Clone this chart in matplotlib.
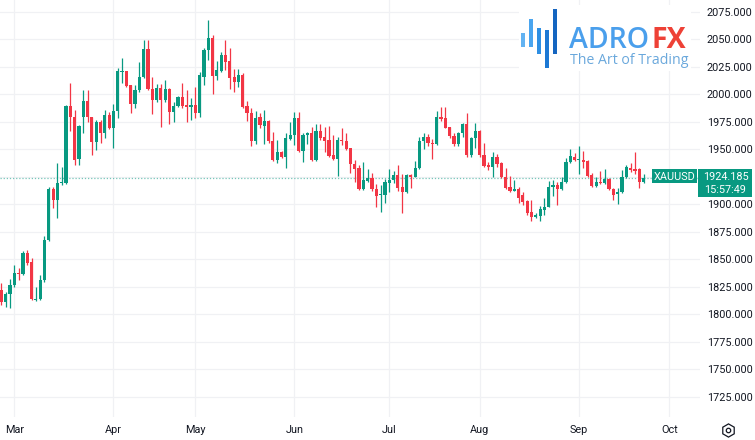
import numpy as np
import pandas as pd
import matplotlib
matplotlib.use("Agg")
import matplotlib.pyplot as plt
from matplotlib.patches import Rectangle
from matplotlib.lines import Line2D

plt.rcParams['font.family'] = ['Roboto', 'DejaVu Sans']

# ---------------- data (XAUUSD daily, 2023-02-24 .. 2023-09-22) ----------------
opens = [1822, 1811.4, 1818.1, 1826.5, 1837.8, 1836.3, 1856, 1847.7, 1812.8, 1813.5,
         1831, 1867.5, 1913.8, 1903.8, 1919, 1919, 1989.3, 1979.5, 1940.8, 1979,
         1993.8, 1979, 1956.8, 1974.5, 1964.5, 1981, 1969.5, 1984.7, 2020.5, 2021,
         2008.4, 1990.8, 2003.8, 2015.4, 2041, 2004.7, 1994.7, 2006, 1994.7, 2004.7,
         1983.5, 1989.5, 1997.7, 1990.2, 1988, 1990.2, 1982.6, 2016, 2040, 2050.8,
         2016.5, 2021.4, 2035.6, 2030, 2015.4, 2011.4, 2017.5, 1989.3, 1982.6, 1957.7,
         1979, 1971, 1975.9, 1957.7, 1940.2, 1947.2, 1943.2, 1959.3, 1962.9, 1978,
         1948.6, 1962.9, 1964.5, 1940.2, 1966.5, 1961.4, 1958.4, 1944.7, 1941.1, 1958.4,
         1957.7, 1950.8, 1936.3, 1933.2, 1913.5, 1921.4, 1923.5, 1913.8, 1908, 1908.4,
         1919.5, 1922, 1926.5, 1915.4, 1910.8, 1926.5, 1925, 1932.6, 1957.7, 1961.4,
         1955.9, 1954.7, 1979.5, 1978, 1970, 1962, 1954.5, 1964.5, 1972.6, 1944.7,
         1959.9, 1966.5, 1944.7, 1935.6, 1934.1, 1943.2, 1937.2, 1925, 1915.9, 1912.3,
         1913.8, 1908.4, 1903, 1893.2, 1888.6, 1889.3, 1894.5, 1897.5, 1915.9, 1917.5,
         1913.8, 1920.5, 1938, 1943.2, 1940.2, 1940.2, 1939, 1926.5, 1916.8, 1920.5,
         1919.5, 1922.9, 1913.5, 1909, 1910.8, 1924.5, 1933.2, 1931.7, 1931.7, 1920.5]
highs = [1828, 1820.5, 1831.7, 1844.7, 1841.7, 1857, 1858.4, 1851.4, 1824.5, 1835.6,
         1871.4, 1915.7, 1915.4, 1937.7, 1934, 1990.2, 2010.5, 1985.6, 1972, 2003.8,
         2003.8, 1979.5, 1976.5, 1976.5, 1985.6, 1983.5, 1990.8, 2023.5, 2032.6, 2021.4,
         2008.4, 2008.4, 2029.5, 2049.3, 2049.3, 2016, 2009, 2009, 2013, 2005.4,
         1992.6, 1998.4, 2010, 2003.8, 1996.3, 2006.8, 2020.5, 2041.7, 2067.5, 2053.8,
         2030, 2038.6, 2049.3, 2041.7, 2022.6, 2022.6, 2019, 1993.8, 1987.2, 1984.7,
         1982.6, 1985.6, 1976.5, 1965.9, 1958.4, 1948.6, 1964.5, 1975, 1984.1, 1984.1,
         1964.5, 1966, 1970, 1973, 1973, 1970, 1971, 1962.9, 1960.8, 1969,
         1964.5, 1951.4, 1940.2, 1935.6, 1938, 1932, 1928, 1918, 1917.5, 1923,
         1932, 1930.5, 1935.6, 1927, 1927.4, 1927.8, 1939.5, 1961.4, 1964.5, 1964,
         1959.3, 1985, 1988, 1988.6, 1970, 1964.5, 1965.9, 1973.5, 1982.6, 1961,
         1973.5, 1967.5, 1955.4, 1938.6, 1947.7, 1945.6, 1938.6, 1933.2, 1925.6, 1922,
         1916, 1911, 1904, 1903.8, 1892, 1898, 1905.4, 1921, 1922, 1920.5,
         1925, 1942, 1950.2, 1946.6, 1953.2, 1948, 1940.2, 1928, 1925, 1930.5,
         1932, 1923.5, 1914.4, 1914.4, 1931, 1935.6, 1937.2, 1947, 1933.2, 1927]
lows = [1808.4, 1806.8, 1805.4, 1825, 1831, 1835.8, 1844.7, 1812.6, 1812.3, 1813,
        1829.5, 1866.9, 1896.3, 1887.2, 1917.5, 1918.4, 1966.8, 1935.6, 1935.6, 1965,
        1975, 1944.7, 1949.4, 1955.4, 1960, 1968.4, 1950.8, 1978, 2009.9, 2006.8,
        1982.6, 1987.7, 2002.3, 2014.5, 2003.5, 1981.7, 1993.2, 1970.5, 1993.2, 1972.6,
        1975, 1988.6, 1987.2, 1975, 1976.5, 1978, 1979.5, 2008.4, 2031, 2000,
        2013, 2020.5, 2022, 2005, 2002.3, 2006.8, 1987, 1975.9, 1952.9, 1954.7,
        1969, 1954.7, 1956, 1939.5, 1937.7, 1942.4, 1933.2, 1958.4, 1953.8, 1947.7,
        1938.6, 1955, 1939.5, 1939.5, 1958.4, 1947.7, 1943.2, 1940.2, 1925.6, 1953.8,
        1949.3, 1928, 1920.5, 1912.9, 1912.9, 1920, 1912, 1897, 1893.2, 1900.8,
        1911.5, 1919.5, 1912, 1892, 1910, 1914.5, 1924.4, 1932, 1950, 1952.9,
        1941, 1953.8, 1976, 1969, 1959.9, 1953.2, 1952.9, 1961.4, 1943.2, 1943,
        1950.8, 1943.2, 1934, 1931, 1925, 1933.8, 1924.1, 1914, 1911.1, 1912,
        1901, 1899, 1890, 1885, 1887, 1885, 1890, 1897, 1907, 1899.3,
        1912.9, 1919.5, 1937, 1939.5, 1927.7, 1933, 1925, 1915.9, 1915.9, 1918.5,
        1918.6, 1912.9, 1903.8, 1900, 1910, 1923.4, 1929, 1927.7, 1914.5, 1919.5]
closes = [1811.4, 1818.1, 1826.5, 1837.2, 1836.6, 1856, 1846.8, 1813.5, 1814, 1831,
          1867.5, 1913.8, 1903.8, 1919, 1920.2, 1989.3, 1979.5, 1940.2, 1971, 1993.8,
          1979, 1956.8, 1975, 1964.5, 1981, 1969.5, 1984.7, 2021, 2021.4, 2007.7,
          1990.8, 2003.8, 2015.4, 2041, 2004.7, 1994.7, 2006, 1994.7, 2004.7, 1983.5,
          1989.5, 1997.7, 1989.5, 1988, 1990.2, 1982.6, 2017.5, 2040.2, 2050.8, 2016.5,
          2022, 2035.6, 2029.5, 2015, 2011.4, 2017.5, 1988.6, 1982.6, 1957.7, 1978,
          1972, 1975.9, 1957.7, 1940.2, 1947.2, 1943.2, 1959.9, 1962.9, 1978, 1948.6,
          1962.9, 1964.5, 1940.2, 1966.5, 1960.5, 1957.7, 1944.1, 1941.1, 1958.4, 1957.2,
          1950.2, 1936.3, 1932, 1913.5, 1922, 1923.5, 1913.5, 1907.7, 1909, 1919.9,
          1922, 1926.5, 1914.5, 1910.8, 1926.5, 1925, 1932.6, 1957.7, 1961.4, 1955.9,
          1954.7, 1979.5, 1977.7, 1969.5, 1962, 1954.5, 1964.5, 1972.6, 1944.7, 1959.9,
          1966.5, 1944.7, 1935, 1934.1, 1943.2, 1936.5, 1925, 1915, 1912.3, 1913.8,
          1905.4, 1902.3, 1892.3, 1888.6, 1890.2, 1895.4, 1897.5, 1915.9, 1917.5, 1913.8,
          1920.5, 1938, 1943.8, 1940.2, 1941.4, 1938.6, 1925.9, 1916.6, 1920.5, 1919,
          1922.9, 1913.5, 1908.4, 1911.4, 1924.5, 1934.1, 1931, 1930.5, 1920.5, 1924.185]

month_labels = ['Mar', 'Apr', 'May', 'Jun', 'Jul', 'Aug', 'Sep', 'Oct']
price_ticks = [1725, 1750, 1775, 1800, 1825, 1850, 1875, 1900, 1925, 1950,
               1975, 2000, 2025, 2050, 2075]
symbol = 'XAUUSD'
last_price = 1924.185
countdown = '15:57:49'

# trading calendar (Good Friday closed)
cal = [d for d in pd.bdate_range('2023-02-24', '2023-10-06') if d != pd.Timestamp('2023-04-07')]
month_pos = []
for m in range(3, 11):
    month_pos.append(next(i for i, d in enumerate(cal) if d.month == m))

UP = '#089981'
DOWN = '#F23645'
TXT = '#131722'

W, H = 755, 440
fig = plt.figure(figsize=(W / 100, H / 100), dpi=100)
fig.patch.set_facecolor('white')

def fx(px):
    return px / W

def fy(py):
    return 1 - py / H

ax = fig.add_axes([0, fy(417), fx(700), 417 / H])
ax.set_facecolor('white')

o = np.array(opens); h = np.array(highs); l = np.array(lows); c = np.array(closes)
xs = np.arange(len(o))
col = np.where(c >= o, UP, DOWN)
ax.vlines(xs, l, h, colors=col, linewidth=0.9, zorder=3)
bottoms = np.minimum(o, c)
heights = np.maximum(np.abs(c - o), 0.9)
ax.bar(xs, heights, bottom=bottoms, width=0.74, color=col, edgecolor='none', zorder=4)

ax.axhline(last_price, color=UP, linestyle=(0, (1, 1.5)), linewidth=0.9, alpha=0.55, zorder=2)

ax.set_xlim(-0.32, 162.1)
ax.set_ylim(1706.5, 2085.6)
ax.set_xticks(month_pos)
ax.set_xticklabels(month_labels)
ax.set_yticks(price_ticks)
# the 1925 label sits under the last-price box, as in the reference
ax.set_yticklabels(['' if v == 1925 else f'{v:.3f}' for v in price_ticks])
ax.yaxis.tick_right()
ax.tick_params(axis='y', length=0, pad=5, labelsize=7.8, labelcolor=TXT)
ax.tick_params(axis='x', length=0, pad=6, labelsize=7.8, labelcolor=TXT)
ax.grid(True, color='#f0f1f4', linewidth=0.9, zorder=0)
ax.set_axisbelow(True)
for s in ax.spines.values():
    s.set_visible(False)

# price label boxes
def rect(x0, y0, x1, y1, color, z=5):
    fig.add_artist(Rectangle((fx(x0), fy(y1)), fx(x1) - fx(x0), (y1 - y0) / H,
                             transform=fig.transFigure, facecolor=color,
                             edgecolor='none', zorder=z))

rect(652, 169.5, 697, 183.5, UP)
rect(698, 169.5, 752, 197, UP)
fig.text(fx(674.5), fy(176.8), symbol, color='white', fontsize=7.8,
         ha='center', va='center', zorder=6)
fig.text(fx(725.5), fy(176.8), f'{last_price:.3f}', color='white', fontsize=7.8,
         ha='center', va='center', zorder=6)
fig.text(fx(725.5), fy(190), countdown, color='white', fontsize=7.8,
         ha='center', va='center', zorder=6)

# logo
rect(519, 5, 691, 71, 'white', z=5)
logo_bars = [(521, 525, 33, 47, '#63b3f2'), (529, 533, 19, 47, '#4aa5ef'),
             (536.7, 541, 28, 54, '#2e8fe3'), (545, 549, 30, 68, '#1c78d4'),
             (552.7, 557, 9, 54, '#1565c0')]
for x0, x1, y0, y1, cc in logo_bars:
    rect(x0, y0, x1, y1, cc, z=6)
fig.text(fx(569), fy(48), 'ADRO', color='#4a9fec', fontsize=20.5,
         family='Open Sans', weight='semibold', ha='left', va='baseline', zorder=7)
fig.text(fx(651), fy(48), 'FX', color='#ee4136', fontsize=20.5,
         family='Open Sans', weight='bold', ha='left', va='baseline', zorder=7)
fig.text(fx(569.5), fy(64.5), 'The Art of Trading', color='#6aa8dc', fontsize=10.2,
         family='Open Sans', ha='left', va='baseline', zorder=7)

# settings gear icon
fig.add_artist(Line2D([fx(728)], [fy(430)], marker='h', markersize=9.5, mfc='none',
                      mec=TXT, mew=0.9, transform=fig.transFigure))
fig.add_artist(Line2D([fx(728)], [fy(430)], marker='o', markersize=3.2, mfc='none',
                      mec=TXT, mew=0.9, transform=fig.transFigure))

fig.savefig('out.png', dpi=100, facecolor='white')
